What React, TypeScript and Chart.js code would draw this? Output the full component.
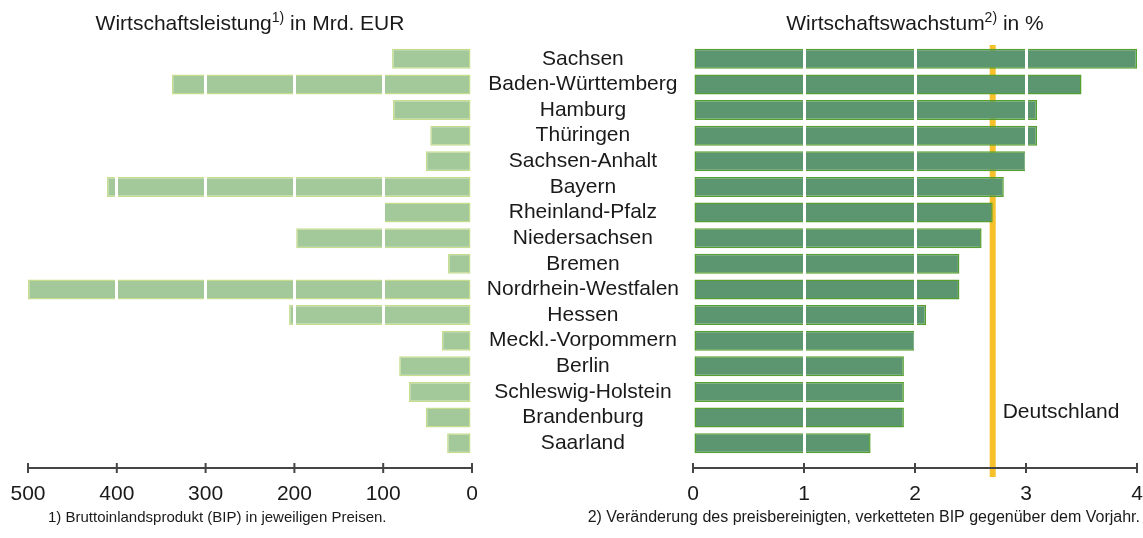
import React, { useEffect, useRef } from "react";
import { Chart, registerables } from "chart.js";

Chart.register(...registerables);

const states = [
  "Sachsen",
  "Baden-Württemberg",
  "Hamburg",
  "Thüringen",
  "Sachsen-Anhalt",
  "Bayern",
  "Rheinland-Pfalz",
  "Niedersachsen",
  "Bremen",
  "Nordrhein-Westfalen",
  "Hessen",
  "Meckl.-Vorpommern",
  "Berlin",
  "Schleswig-Holstein",
  "Brandenburg",
  "Saarland",
];

// Wirtschaftsleistung (BIP) in Mrd. EUR
const gdpValues = [90, 338, 89, 47, 52, 411, 100, 198, 27, 500, 206, 34, 82, 71, 52, 28];

// Wirtschaftswachstum in %
const growthValues = [4.0, 3.5, 3.1, 3.1, 3.0, 2.8, 2.7, 2.6, 2.4, 2.4, 2.1, 2.0, 1.9, 1.9, 1.9, 1.6];

const germanyGrowth = 2.7;

const gdpTicks = [0, 100, 200, 300, 400, 500];
const growthTicks = [0, 1, 2, 3, 4];

const FONT = "'Liberation Sans', Arial, sans-serif";
const W = 1143;
const H = 538;

function drawTitle(ctx: CanvasRenderingContext2D, cx: number, cy: number, main: string, sup: string, rest: string) {
  ctx.save();
  ctx.fillStyle = "#1a1a1a";
  ctx.textBaseline = "alphabetic";
  ctx.textAlign = "left";
  const big = `21px ${FONT}`;
  const small = `14px ${FONT}`;
  ctx.font = big;
  const w1 = ctx.measureText(main).width;
  const w3 = ctx.measureText(rest).width;
  ctx.font = small;
  const w2 = ctx.measureText(sup).width;
  const total = w1 + w2 + w3;
  let x = cx - total / 2;
  const base = cy + 8;
  ctx.font = big;
  ctx.fillText(main, x, base);
  x += w1;
  ctx.font = small;
  ctx.fillText(sup, x, base - 8);
  x += w2;
  ctx.font = big;
  ctx.fillText(rest, x, base);
  ctx.restore();
}

function makeAxisPlugin(id: string) {
  return {
    id,
    afterDraw(chart: any) {
      const xs = chart.scales.x;
      const ctx = chart.ctx as CanvasRenderingContext2D;
      const y = chart.chartArea.bottom + 12;
      const a = xs.getPixelForValue(xs.min);
      const b = xs.getPixelForValue(xs.max);
      ctx.save();
      ctx.strokeStyle = "#454545";
      ctx.lineWidth = 2;
      ctx.beginPath();
      ctx.moveTo(Math.min(a, b), y);
      ctx.lineTo(Math.max(a, b), y);
      ctx.stroke();
      xs.ticks.forEach((t: any) => {
        const px = xs.getPixelForValue(t.value);
        ctx.beginPath();
        ctx.moveTo(px, y - 5);
        ctx.lineTo(px, y + 5);
        ctx.stroke();
      });
      ctx.restore();
    },
  };
}

function gridColor(max: number) {
  return (c: any) => {
    const v = c.tick ? c.tick.value : null;
    if (v === 0 || v === max) return "rgba(255,255,255,0)";
    return "#ffffff";
  };
}

export default function App() {
  const leftRef = useRef<HTMLCanvasElement>(null);
  const rightRef = useRef<HTMLCanvasElement>(null);

  useEffect(() => {
    const leftText = {
      id: "leftText",
      afterDraw(chart: any) {
        const ctx = chart.ctx as CanvasRenderingContext2D;
        const ca = chart.chartArea;
        drawTitle(ctx, (ca.left + ca.right) / 2, 22, "Wirtschaftsleistung", "1)", " in Mrd. EUR");
        ctx.save();
        ctx.font = `15px ${FONT}`;
        ctx.fillStyle = "#1a1a1a";
        ctx.textBaseline = "middle";
        ctx.textAlign = "left";
        ctx.fillText("1) Bruttoinlandsprodukt (BIP) in jeweiligen Preisen.", 48, 518);
        ctx.restore();
      },
    };

    const rightText = {
      id: "rightText",
      afterDraw(chart: any) {
        const ctx = chart.ctx as CanvasRenderingContext2D;
        const ca = chart.chartArea;
        drawTitle(ctx, (ca.left + ca.right) / 2, 22, "Wirtschaftswachstum", "2)", " in %");
        ctx.save();
        ctx.font = `16px ${FONT}`;
        ctx.fillStyle = "#1a1a1a";
        ctx.textBaseline = "middle";
        ctx.textAlign = "right";
        ctx.fillText("2) Veränderung des preisbereinigten, verketteten BIP gegenüber dem Vorjahr.", 1140, 518);
        const xs = chart.scales.x;
        const lx = xs.getPixelForValue(germanyGrowth);
        ctx.font = `21px ${FONT}`;
        ctx.textAlign = "left";
        ctx.fillStyle = "#1a1a1a";
        ctx.fillText("Deutschland", lx + 10, 412);
        ctx.restore();
      },
    };

    const germanyLine = {
      id: "germanyLine",
      beforeDatasetsDraw(chart: any) {
        const ctx = chart.ctx as CanvasRenderingContext2D;
        const ca = chart.chartArea;
        const xs = chart.scales.x;
        const x = xs.getPixelForValue(germanyGrowth);
        ctx.save();
        ctx.fillStyle = "#f6c12b";
        ctx.fillRect(x - 3, ca.top - 1, 6, ca.bottom + 21 - (ca.top - 1));
        ctx.restore();
      },
    };

    const tickFont = { family: FONT, size: 21 };
    // tall line height pushes the x tick labels down without adding horizontal padding
    const xTickFont = { family: FONT, size: 21, lineHeight: 76 / 21 };

    const left = new Chart(leftRef.current as HTMLCanvasElement, {
      type: "bar",
      data: {
        labels: states,
        datasets: [
          {
            data: gdpValues,
            backgroundColor: "#a3c99b",
            borderColor: "#c6dd8e",
            borderWidth: 1.5,
            borderSkipped: false,
            barPercentage: 0.78,
            categoryPercentage: 1,
          },
        ],
      },
      options: {
        indexAxis: "y",
        responsive: false,
        animation: false,
        events: [],
        layout: { padding: { left: 28, right: W - 472, top: 46, bottom: H - 456 - 50 } },
        plugins: { legend: { display: false }, tooltip: { enabled: false }, title: { display: false } },
        scales: {
          x: {
            type: "linear",
            reverse: true,
            min: 0,
            max: 500,
            afterBuildTicks: (s: any) => {
              s.ticks = gdpTicks.map((v) => ({ value: v }));
            },
            afterFit: (s: any) => {
              s.height = 50;
            },
            ticks: { font: xTickFont, color: "#1a1a1a", padding: 0, maxRotation: 0 },
            grid: { color: gridColor(500), lineWidth: 3, z: 1, drawTicks: false },
            border: { display: false },
          },
          y: { display: false },
        },
      } as any,
      plugins: [makeAxisPlugin("leftAxis"), leftText],
    });

    const right = new Chart(rightRef.current as HTMLCanvasElement, {
      type: "bar",
      data: {
        labels: states,
        datasets: [
          {
            data: growthValues,
            backgroundColor: "#5b9670",
            borderColor: "#55a02e",
            borderWidth: 1.5,
            borderSkipped: false,
            barPercentage: 0.78,
            categoryPercentage: 1,
          },
        ],
      },
      options: {
        indexAxis: "y",
        responsive: false,
        animation: false,
        events: [],
        layout: { padding: { left: 472, right: 6, top: 46, bottom: H - 456 - 50 } },
        plugins: { legend: { display: false }, tooltip: { enabled: false }, title: { display: false } },
        scales: {
          x: {
            type: "linear",
            min: 0,
            max: 4,
            afterBuildTicks: (s: any) => {
              s.ticks = growthTicks.map((v) => ({ value: v }));
            },
            afterFit: (s: any) => {
              s.height = 50;
            },
            ticks: { font: xTickFont, color: "#1a1a1a", padding: 0, maxRotation: 0 },
            grid: { color: gridColor(4), lineWidth: 3, z: 1, drawTicks: false },
            border: { display: false },
          },
          y: {
            afterFit: (s: any) => {
              s.width = 221;
            },
            ticks: { font: tickFont, color: "#1a1a1a", crossAlign: "center", padding: 14, autoSkip: false },
            grid: { display: false, drawTicks: false },
            border: { display: false },
          },
        },
      } as any,
      plugins: [germanyLine, makeAxisPlugin("rightAxis"), rightText],
    });

    return () => {
      left.destroy();
      right.destroy();
    };
  }, []);

  return (
    <div style={{ position: "fixed", left: 0, top: 0, width: W, height: H, background: "#ffffff" }}>
      <canvas ref={leftRef} width={W} height={H} style={{ position: "absolute", left: 0, top: 0 }} />
      <canvas ref={rightRef} width={W} height={H} style={{ position: "absolute", left: 0, top: 0 }} />
    </div>
  );
}
